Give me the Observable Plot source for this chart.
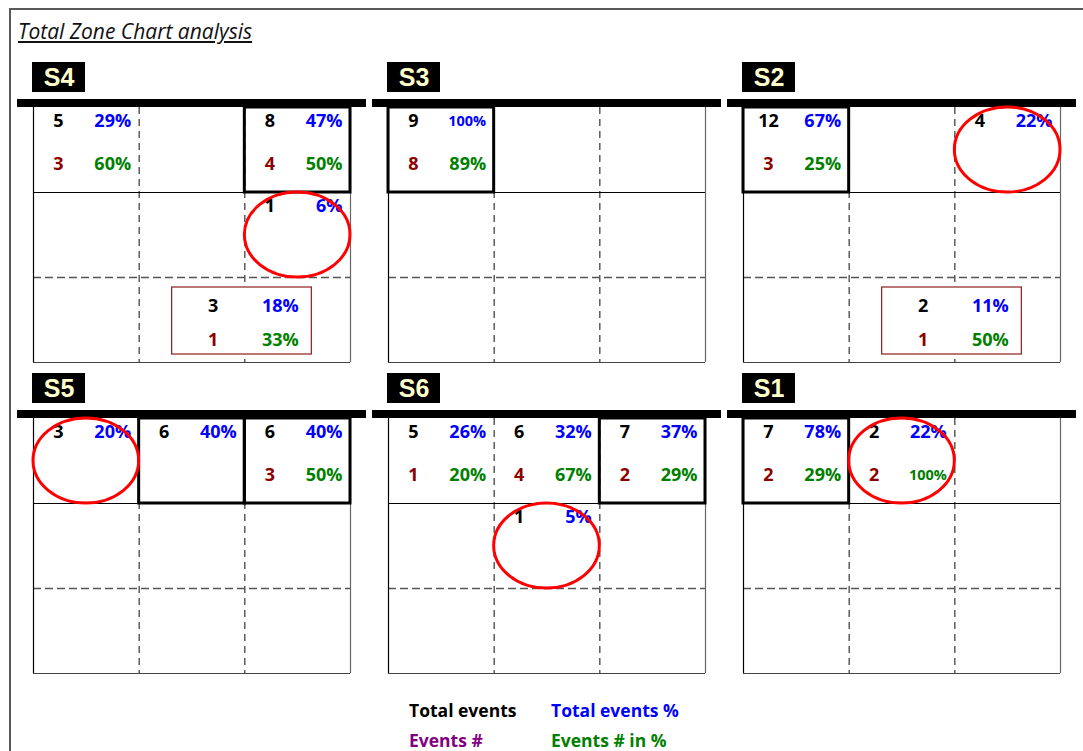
<!DOCTYPE html>
<html><head><meta charset="utf-8">
<script src="https://cdn.jsdelivr.net/npm/d3@7"></script>
<script src="https://cdn.jsdelivr.net/npm/@observablehq/plot@0.6"></script>
<style>
html,body{margin:0;padding:0;background:#fff;overflow:hidden;width:1083px;height:751px;}
#frame{position:absolute;left:9px;top:8px;width:1200px;height:900px;border-left:2px solid #5a5a5a;border-top:2px solid #5a5a5a;}
#title{position:absolute;left:18px;top:18px;font-family:"Open Sans";font-style:italic;font-size:21px;line-height:26px;text-decoration:underline;text-underline-offset:2px;color:#111;white-space:nowrap;}
#chart{position:absolute;left:0;top:0;}
.leg{position:absolute;font-family:"Open Sans";font-weight:700;font-size:17.5px;line-height:20px;white-space:nowrap;}
</style></head><body>
<div id="frame"></div>
<div id="title">Total Zone Chart analysis</div>
<div id="chart"></div>
<div id="legend"></div>
<script>
// ---- data ----
const panelNames = ["S4", "S3", "S2", "S5", "S6", "S1"];
const panelCol   = [0, 1, 2, 0, 1, 2];
const panelRow   = [0, 0, 0, 1, 1, 1];

const cellPanel   = ["S4","S4","S4","S3","S2","S2","S5","S5","S5","S6","S6","S6","S6","S1","S1"];
const cellRow     = [0, 0, 1, 0, 0, 0, 0, 0, 0, 0, 0, 0, 1, 0, 0];
const cellCol     = [0, 2, 2, 0, 0, 2, 0, 1, 2, 0, 1, 2, 1, 0, 1];
const totalEvents = [5, 8, 1, 9, 12, 4, 3, 6, 6, 5, 6, 7, 1, 7, 2];
const totalPct    = [29, 47, 6, 100, 67, 22, 20, 40, 40, 26, 32, 37, 5, 78, 22];
const events      = [3, 4, null, 8, 3, null, null, null, 3, 1, 4, 2, null, 2, 2];
const eventsPct   = [60, 50, null, 89, 25, null, null, null, 50, 20, 67, 29, null, 29, 100];
const highlighted = [false, true, false, true, true, false, false, true, true, false, false, true, false, true, false];
const circled     = [false, false, true, false, false, true, true, false, false, false, false, false, true, false, true];

// events outside the zone grid
const outPanel     = ["S4", "S2"];
const outTotal     = [3, 2];
const outPct       = [18, 11];
const outEvents    = [1, 1];
const outEventsPct = [33, 50];

const legendLabels = ["Total events", "Total events %", "Events #", "Events # in %"];
const legendColors = ["#000000", "#0000FF", "#800080", "#008000"];

const gridInner = [1, 2];

// ---- styles / layout ----
const BLUE = "#0000FF", GREEN = "#008000", MAROON = "#8B0000";
const FONT = "Open Sans";
const FS = 18;
const CW = 317 / 3, RH = 85;

const pIndex = new Map(panelNames.map((n, i) => [n, i]));
const panels = panelNames.map((name, i) => ({name, px: panelCol[i], py: panelRow[i]}));
const cells = cellPanel.map((p, i) => ({
  px: panelCol[pIndex.get(p)], py: panelRow[pIndex.get(p)],
  r: cellRow[i], c: cellCol[i],
  total: totalEvents[i], pct: totalPct[i], ev: events[i], evPct: eventsPct[i],
  thick: highlighted[i], circ: circled[i]
}));
const outs = outPanel.map((p, i) => ({
  px: panelCol[pIndex.get(p)], py: panelRow[pIndex.get(p)],
  total: outTotal[i], pct: outPct[i], ev: outEvents[i], evPct: outEventsPct[i]
}));
const evCells = cells.filter(d => d.ev != null);
const pctSize = s => (String(s).length >= 4 ? 14.5 : FS);

const fac = {fx: "px", fy: "py"};
const txt = {fontFamily: FONT, fontWeight: 700, lineAnchor: "middle"};

const chart = Plot.plot({
  width: 1083, height: 751,
  marginLeft: 17, marginRight: 7, marginTop: 62, marginBottom: 78,
  fx: {domain: [0, 1, 2], paddingInner: 6 / 355, paddingOuter: 0, axis: null, round: false},
  fy: {domain: [0, 1], paddingInner: 11 / 311, paddingOuter: 0, axis: null, round: false},
  x: {domain: [-16 / CW, 3 + 16 / CW], axis: null},
  y: {domain: [-45 / RH, 3], reverse: true, axis: null},
  style: {background: "transparent", fontFamily: FONT},
  marks: [
    // grid
    Plot.ruleX(gridInner, {y1: 0, y2: 3, stroke: "#333", strokeDasharray: "7,5", strokeWidth: 1.2}),
    Plot.ruleY([2], {x1: 0, x2: 3, stroke: "#555", strokeDasharray: "8,4", strokeWidth: 1.3}),
    Plot.ruleY([1], {x1: 0, x2: 3, stroke: "#000"}),
    Plot.ruleY([3], {x1: 0, x2: 3, stroke: "#444", strokeWidth: 1.2}),
    Plot.ruleX([0], {y1: 0, y2: 3, stroke: "#000", strokeWidth: 1.2}),
    Plot.ruleX([3], {y1: 0, y2: 3, stroke: "#666", strokeWidth: 1.2}),
    // header bar
    Plot.rect([0], {x1: -16 / CW, x2: 3 + 16 / CW, y1: -8 / RH, y2: 0, fill: "#000"}),
    // panel labels
    Plot.rect(panels, {...fac, x1: -1 / CW, x2: 52 / CW, y1: -45 / RH, y2: -15 / RH, fill: "#000"}),
    Plot.text(panels, {...fac, x: 25.5 / CW, y: -30 / RH, text: "name", fill: "#FFFFCC",
      fontFamily: "Liberation Sans", fontWeight: 700, fontSize: 25, lineAnchor: "middle"}),
    // highlighted zones
    Plot.rect(cells.filter(d => d.thick), {...fac, x1: d => d.c, x2: d => d.c + 1, y1: d => d.r, y2: d => d.r + 1,
      fill: "none", stroke: "#000", strokeWidth: 3}),
    // outside box
    Plot.rect(outs, {...fac, x1: 1 + 33 / CW, x2: 2 + 67 / CW, y1: 2 + 10 / RH, y2: 2 + 77 / RH,
      fill: "#fff", stroke: "#8E1B1F", strokeWidth: 1.2}),
    // cell texts
    Plot.text(cells, {...fac, ...txt, x: d => d.c + 25 / CW, y: d => d.r + 14 / RH, text: d => String(d.total),
      fill: "#000", fontSize: FS, textAnchor: "middle"}),
    Plot.text(cells, {...fac, ...txt, x: d => d.c + 1 - 8 / CW, y: d => d.r + 14 / RH, text: d => d.pct + "%",
      fill: BLUE, fontSize: d => pctSize(d.pct + "%"), textAnchor: "end"}),
    Plot.text(evCells, {...fac, ...txt, x: d => d.c + 25 / CW, y: d => d.r + 57 / RH, text: d => String(d.ev),
      fill: MAROON, fontSize: FS, textAnchor: "middle"}),
    Plot.text(evCells, {...fac, ...txt, x: d => d.c + 1 - 8 / CW, y: d => d.r + 57 / RH, text: d => d.evPct + "%",
      fill: GREEN, fontSize: d => pctSize(d.evPct + "%"), textAnchor: "end"}),
    // outside texts
    Plot.text(outs, {...fac, ...txt, x: 1 + 74 / CW, y: 2 + 29 / RH, text: d => String(d.total),
      fill: "#000", fontSize: FS, textAnchor: "middle"}),
    Plot.text(outs, {...fac, ...txt, x: 2 + 54 / CW, y: 2 + 29 / RH, text: d => d.pct + "%",
      fill: BLUE, fontSize: FS, textAnchor: "end"}),
    Plot.text(outs, {...fac, ...txt, x: 1 + 74 / CW, y: 2 + 63 / RH, text: d => String(d.ev),
      fill: MAROON, fontSize: FS, textAnchor: "middle"}),
    Plot.text(outs, {...fac, ...txt, x: 2 + 54 / CW, y: 2 + 63 / RH, text: d => d.evPct + "%",
      fill: GREEN, fontSize: FS, textAnchor: "end"}),
    // circled zones
    Plot.rect(cells.filter(d => d.circ), {...fac, x1: d => d.c, x2: d => d.c + 1, y1: d => d.r, y2: d => d.r + 1,
      rx: 300, ry: 300, fill: "none", stroke: "#FF0000", strokeWidth: 3})
  ]
});
document.getElementById("chart").appendChild(chart);

// legend
const leg = d3.select("#legend");
legendLabels.forEach((t, i) => {
  leg.append("div").attr("class", "leg")
    .style("left", (409 + (i % 2) * 142) + "px")
    .style("top", (700 + Math.floor(i / 2) * 29.5) + "px")
    .style("color", legendColors[i])
    .text(t);
});
</script></body></html>
